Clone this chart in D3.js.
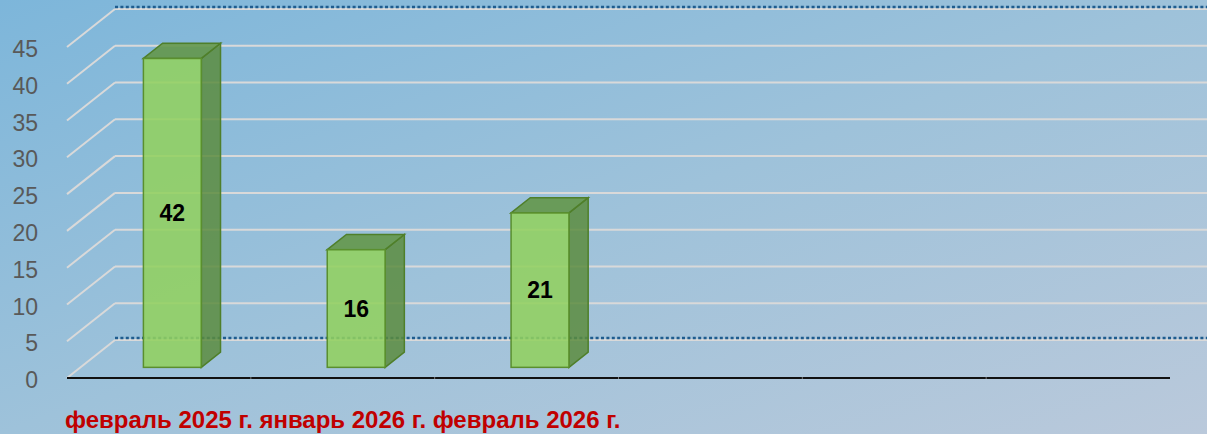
<!DOCTYPE html>
<html>
<head>
<meta charset="utf-8">
<script src="https://cdn.jsdelivr.net/npm/d3@7"></script>
<style>
  html, body { margin: 0; padding: 0; }
  body { width: 1207px; height: 434px; overflow: hidden; }
  svg { display: block; font-family: "Liberation Sans", Arial, sans-serif; }
</style>
</head>
<body>
<svg id="chart" width="1207" height="434"></svg>
<script>
// data
const categories = ['февраль 2025 г.', 'январь 2026 г.', 'февраль 2026 г.', '', '', ''];
const values = [42, 16, 21, null, null, null];
const yTicks = [0, 5, 10, 15, 20, 25, 30, 35, 40, 45];

const width = 1207;
const height = 434;
// 3d depth of the plot box
const depthX = 48;
const depthY = -38;
// bars sit between these depth fractions
const barFront = 0.28;
const barBack = 0.68;

const $svg = d3.select('#chart');

// background gradient
const defs = $svg.append('defs');
const grad = defs.append('linearGradient')
  .attr('id', 'bg')
  .attr('x1', '0%').attr('y1', '0%')
  .attr('x2', '100%').attr('y2', '100%');
grad.append('stop').attr('offset', '0%').attr('stop-color', '#7db6da');
grad.append('stop').attr('offset', '50%').attr('stop-color', '#9ec2da');
grad.append('stop').attr('offset', '100%').attr('stop-color', '#bac9db');

$svg.append('rect')
  .attr('width', width)
  .attr('height', height)
  .attr('fill', 'url(#bg)');

const x = d3.scaleBand()
  .domain(d3.range(categories.length))
  .range([67, 1170])
  .paddingInner(0)
  .paddingOuter(0);

const y = d3.scaleLinear()
  .domain([0, 45])
  .range([378, 47]);

// project a point to a depth fraction
const px = (xv, f) => xv + f * depthX;
const py = (yv, f) => yv + f * depthY;

// gridlines: side wall diagonal + back wall
const $grid = $svg.append('g').attr('class', 'grid');
yTicks.forEach(t => {
  $grid.append('line')
    .attr('x1', px(67, 0)).attr('y1', py(y(t), 0))
    .attr('x2', px(67, 1)).attr('y2', py(y(t), 1))
    .attr('stroke', '#d9d9d9')
    .attr('stroke-width', 2);
  $grid.append('line')
    .attr('x1', px(67, 1)).attr('y1', py(y(t), 1))
    .attr('x2', width).attr('y2', py(y(t), 1))
    .attr('stroke', '#d9d9d9')
    .attr('stroke-width', 2);
});

// dotted lines on back wall (floor and top)
[0, 45].forEach(t => {
  $grid.append('line')
    .attr('x1', px(67, 1)).attr('y1', py(y(t), 1) - 2)
    .attr('x2', width).attr('y2', py(y(t), 1) - 2)
    .attr('stroke', '#1f5c8e')
    .attr('stroke-width', 2.5)
    .attr('stroke-dasharray', '3,2.4');
});

// y labels
$svg.append('g')
  .selectAll('text')
  .data(yTicks)
  .join('text')
  .attr('x', 38)
  .attr('y', d => y(d) + 4)
  .attr('text-anchor', 'end')
  .attr('dominant-baseline', 'middle')
  .attr('fill', '#595959')
  .attr('font-size', 23)
  .text(d => d);

// floor line
$svg.append('line')
  .attr('x1', 67).attr('y1', y(0))
  .attr('x2', 1170).attr('y2', y(0))
  .attr('stroke', '#111')
  .attr('stroke-width', 2);

$svg.append('g')
  .selectAll('line')
  .data(d3.range(1, categories.length))
  .join('line')
  .attr('x1', d => x(d)).attr('x2', d => x(d))
  .attr('y1', y(0) - 1).attr('y2', y(0) + 1)
  .attr('stroke', '#777')
  .attr('stroke-width', 1);

// bars
const barW = x.bandwidth() * 0.315;
const bars = values
  .map((v, i) => ({ v, i }))
  .filter(d => d.v != null);

const $bar = $svg.append('g')
  .selectAll('g')
  .data(bars)
  .join('g');

const face = (d) => {
  const x0 = x(d.i) + x.bandwidth() / 2 - barW / 2;
  return { x0, x1: x0 + barW, yb: y(0), yt: y(d.v) };
};

// side
$bar.append('path')
  .attr('d', d => {
    const f = face(d);
    return `M${px(f.x1, barFront)},${py(f.yb, barFront)}` +
      `L${px(f.x1, barBack)},${py(f.yb, barBack)}` +
      `L${px(f.x1, barBack)},${py(f.yt, barBack)}` +
      `L${px(f.x1, barFront)},${py(f.yt, barFront)}Z`;
  })
  .attr('fill', '#5c8c3e')
  .attr('fill-opacity', 0.85)
  .attr('stroke', '#4f7f2a')
  .attr('stroke-width', 1.5);

// top
$bar.append('path')
  .attr('d', d => {
    const f = face(d);
    return `M${px(f.x0, barFront)},${py(f.yt, barFront)}` +
      `L${px(f.x0, barBack)},${py(f.yt, barBack)}` +
      `L${px(f.x1, barBack)},${py(f.yt, barBack)}` +
      `L${px(f.x1, barFront)},${py(f.yt, barFront)}Z`;
  })
  .attr('fill', '#64974a')
  .attr('fill-opacity', 0.9)
  .attr('stroke', '#4f7f2a')
  .attr('stroke-width', 1.5);

// front
$bar.append('rect')
  .attr('x', d => px(face(d).x0, barFront))
  .attr('y', d => py(face(d).yt, barFront))
  .attr('width', barW)
  .attr('height', d => face(d).yb - face(d).yt)
  .attr('fill', '#92d060')
  .attr('fill-opacity', 0.88)
  .attr('stroke', '#5a8f2e')
  .attr('stroke-width', 1.5);

// value labels
$bar.append('text')
  .attr('x', d => px(face(d).x0, barFront) + barW / 2)
  .attr('y', d => py((face(d).yt + face(d).yb) / 2, barFront) + 2)
  .attr('text-anchor', 'middle')
  .attr('dominant-baseline', 'middle')
  .attr('font-size', 23)
  .attr('font-weight', 'bold')
  .attr('fill', '#000')
  .text(d => d.v);

// category labels
$svg.append('g')
  .selectAll('text')
  .data(categories)
  .join('text')
  .attr('x', (d, i) => x(i) + x.bandwidth() / 2)
  .attr('y', 428)
  .attr('text-anchor', 'middle')
  .attr('font-size', 24)
  .attr('font-weight', 'bold')
  .attr('fill', '#c00000')
  .text(d => d);
</script>
</body>
</html>
